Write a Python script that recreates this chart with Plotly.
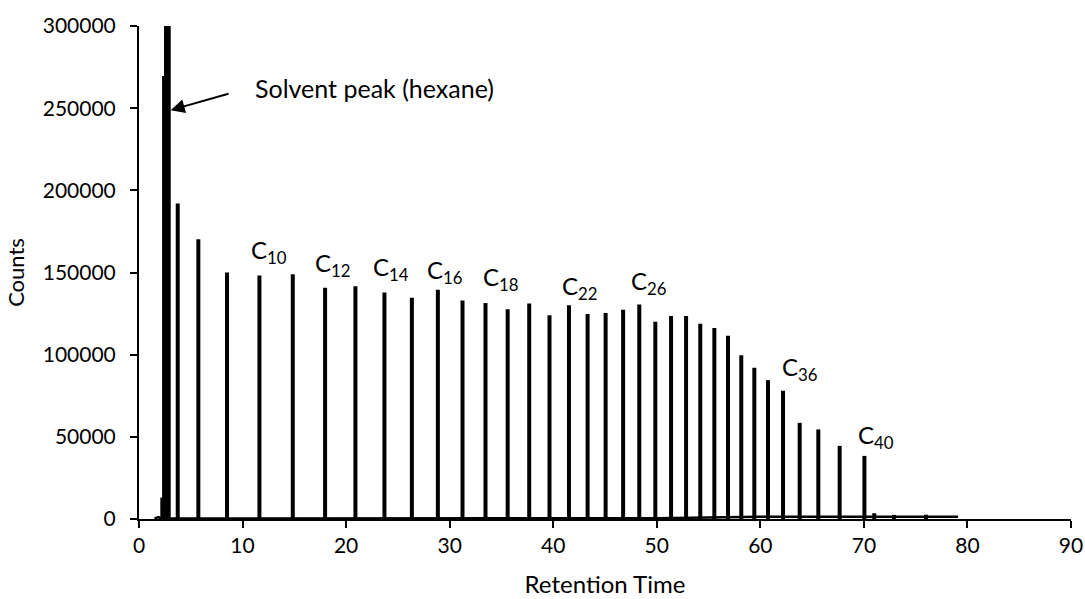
import plotly.graph_objects as go

# Peak retention times (min) and heights (counts)
peak_times = [2.25, 2.42, 2.61, 2.87, 3.74, 5.73, 8.5, 11.63, 14.85, 17.97, 20.9, 23.7, 26.35,
              28.86, 31.24, 33.46, 35.6, 37.68, 39.64, 41.52, 43.32, 45.06, 46.75, 48.31,
              49.86, 51.38, 52.83, 54.2, 55.56, 56.88, 58.16, 59.42, 60.74, 62.19, 63.8,
              65.6, 67.66, 70.05, 71.0, 72.9, 76.0]
peak_heights = [13000, 269500, 450000, 450000, 192000, 170300, 150000, 148200, 149000, 140700,
                141700, 137900, 134600, 139500, 133000, 131500, 127700, 131200, 124000,
                130100, 124800, 125400, 127300, 130500, 120000, 123600, 123600, 118800,
                116300, 111500, 99700, 92000, 84500, 78000, 58500, 54500, 44500, 38400,
                3500, 2500, 2600]

# Baseline (drift)
base_times = [1.5, 1.9, 2.1, 50.0, 60.0, 79.1]
base_counts = [300, 1200, 300, 500, 1300, 1300]

# Labelled peaks
label_names = ["10", "12", "14", "16", "18", "22", "26", "36", "40"]
label_x = [10.63, 16.78, 22.39, 27.66, 33.04, 40.61, 47.28, 61.93, 69.25]
label_y = [162600, 154700, 152300, 150500, 146200, 141000, 143700, 91400, 50000]

x_ticks = [0, 10, 20, 30, 40, 50, 60, 70, 80, 90]
y_ticks = [0, 50000, 100000, 150000, 200000, 250000, 300000]

FONT = "Lato"

fig = go.Figure()

# baseline
fig.add_trace(go.Scatter(x=base_times, y=base_counts,
                         mode="lines", line=dict(color="black", width=2.5),
                         hoverinfo="skip", showlegend=False))

# spikes
xs, ys = [], []
for t, h in zip(peak_times, peak_heights):
    xs += [t, t, None]
    ys += [0, h, None]
fig.add_trace(go.Scatter(x=xs, y=ys, mode="lines",
                         line=dict(color="black", width=4),
                         hoverinfo="skip", showlegend=False))

annotations = []
for name, lx, ly in zip(label_names, label_x, label_y):
    annotations.append(dict(x=lx, y=ly, xref="x", yref="y", text="C<sub>%s</sub>" % name,
                            showarrow=False, xanchor="left", yanchor="middle",
                            font=dict(family=FONT, size=24, color="black")))

# solvent annotation
annotations.append(dict(x=10.99, y=262000, xref="x", yref="y", text="Solvent peak (hexane)",
                        showarrow=False, xanchor="left", yanchor="middle",
                        font=dict(family=FONT, size=25, color="black")))
annotations.append(dict(x=3.06, y=248800, xref="x", yref="y", axref="x", ayref="y",
                        ax=8.79, ay=259000, text="", showarrow=True, arrowhead=2,
                        arrowsize=1.4, arrowwidth=2, arrowcolor="black"))

fig.update_layout(
    width=1085, height=599,
    margin=dict(l=139, r=14, t=26, b=80, autoexpand=False),
    paper_bgcolor="white", plot_bgcolor="white",
    font=dict(family=FONT, color="black"),
    annotations=annotations,
    xaxis=dict(range=[0, 90], tickvals=x_ticks, showgrid=False, zeroline=False,
               automargin=False,
               showline=True, linecolor="black", linewidth=2, ticks="outside",
               ticklen=7, tickwidth=2, tickcolor="black",
               tickfont=dict(family=FONT, size=21, color="black"),
               title=dict(text="Retention Time", font=dict(family=FONT, size=24, color="black"),
                          standoff=20)),
    yaxis=dict(range=[0, 300000], tickvals=y_ticks, showgrid=False, zeroline=False,
               automargin=False,
               showline=True, linecolor="black", linewidth=2, ticks="outside",
               ticklen=7, tickwidth=2, tickcolor="black", tickformat="d",
               tickfont=dict(family=FONT, size=21, color="black"),
               ticklabelstandoff=10,
               title=dict(text="Counts", font=dict(family=FONT, size=22, color="black"),
                          standoff=12)),
)

fig.write_html("out.html")
